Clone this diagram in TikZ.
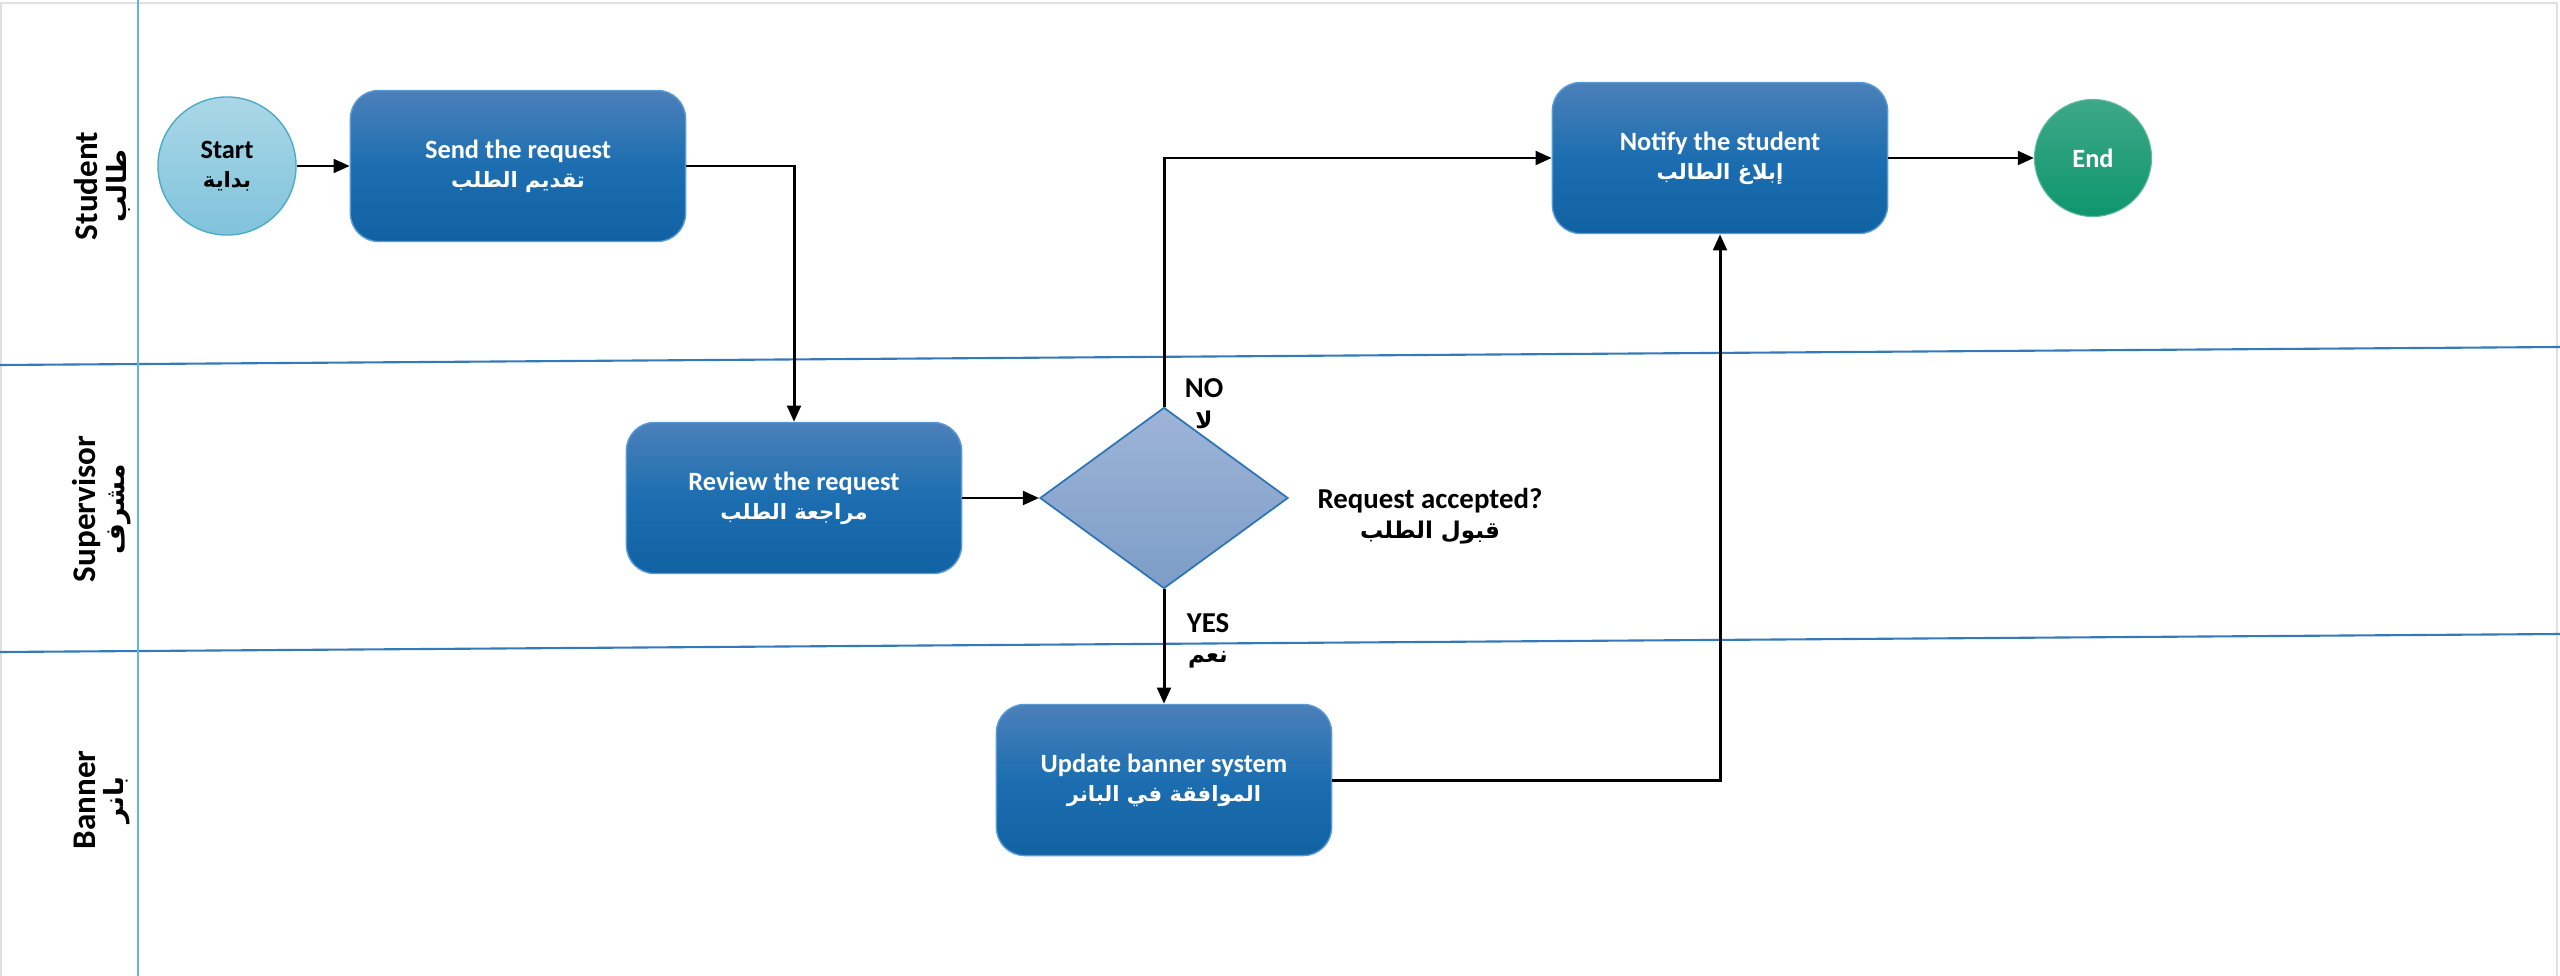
\documentclass[tikz,border=0pt]{standalone}
\usepackage{fontspec}
\setmainfont{Carlito}
\newfontfamily\arabicfont[Script=Arabic,Scale=0.8]{DejaVu Sans}
\TeXXeTstate=1
\usetikzlibrary{shapes.geometric,arrows.meta}
\definecolor{boxtop}{RGB}{76,128,186}
\definecolor{boxmid}{RGB}{28,110,176}
\definecolor{boxbot}{RGB}{16,98,163}
\definecolor{boxedge}{RGB}{91,155,213}
\definecolor{dectop}{RGB}{158,180,215}
\definecolor{decbot}{RGB}{124,157,200}
\definecolor{decedge}{RGB}{46,117,182}
\definecolor{sttop}{RGB}{170,215,231}
\definecolor{stbot}{RGB}{128,195,220}
\definecolor{stedge}{RGB}{75,172,198}
\definecolor{endtop}{RGB}{62,168,134}
\definecolor{endbot}{RGB}{14,150,110}
\definecolor{lanecol}{RGB}{52,122,186}
\definecolor{vcol}{RGB}{95,184,216}
\begin{document}
\begin{tikzpicture}[x=0.01cm,y=-0.01cm,
  proc/.style={rounded corners=8pt, draw=boxedge, line width=0.4pt,
    top color=boxtop, bottom color=boxbot, middle color=boxmid,
    minimum width=3.35cm, minimum height=1.51cm, align=center, text=white,
    font=\fontsize{7.5}{8.2}\selectfont\bfseries},
  startc/.style={circle, draw=stedge, line width=0.4pt, top color=sttop, bottom color=stbot,
    minimum size=1.38cm, inner sep=0pt, align=center, text=black,
    font=\fontsize{7.5}{8.2}\selectfont\bfseries},
  endc/.style={circle, draw=endtop!80!white, line width=0.3pt, top color=endtop, bottom color=endbot,
    minimum size=1.17cm, inner sep=0pt, align=center, text=white,
    font=\fontsize{7.5}{8.2}\selectfont\bfseries},
  decn/.style={diamond, draw=decedge, line width=0.5pt, top color=dectop, bottom color=decbot,
    minimum width=2.48cm, minimum height=1.81cm, inner sep=0pt},
  lbl/.style={align=center, text=black, font=\fontsize{8.2}{8.7}\selectfont\bfseries},
  lanelbl/.style={align=center, text=black, rotate=90, font=\fontsize{9.4}{8.2}\selectfont\bfseries},
  arr/.style={-{Triangle[length=4.6pt,width=3.9pt]}, line width=0.85pt, black},
  laneln/.style={draw=lanecol, line width=0.6pt},
  vln/.style={draw=vcol, line width=0.6pt}
]
\useasboundingbox (0,0) rectangle (2560,976);
\fill[white] (0,0) rectangle (2560,976);
\draw[black!12, line width=0.8pt] (1,976) -- (1,3) -- (2557,3) -- (2557,976);
% swimlanes
\draw[laneln] (0,365) -- (2560,347);
\draw[laneln] (0,652) -- (2560,634);
\draw[vln] (138,0) -- (138,976);
\node[lanelbl] (lstudent) at (102,186) {Student\\{\arabicfont\beginR طالب\endR}};
\node[lanelbl] (lsuper) at (102,509) {Supervisor\\{\arabicfont\beginR مشرف\endR}};
\node[lanelbl] (lbanner) at (102,800) {Banner\\{\arabicfont\beginR بانر\endR}};
% nodes
\node[startc] (start) at (227,166) {Start\\{\arabicfont\beginR بداية\endR}};
\node[proc] (send) at (518,166) {Send the request\\{\arabicfont\beginR تقديم الطلب\endR}};
\node[proc] (review) at (794,498) {Review the request\\{\arabicfont\beginR مراجعة الطلب\endR}};
\node[decn] (dec) at (1164,498) {};
\node[proc] (update) at (1164,780) {Update banner system\\{\arabicfont\beginR الموافقة في البانر\endR}};
\node[proc] (notify) at (1720,158) {Notify the student\\{\arabicfont\beginR إبلاغ الطالب\endR}};
\node[endc] (end) at (2093,158) {End};
% labels
\node[lbl] (no) at (1204,404) {NO\\{\arabicfont\beginR لا\endR}};
\node[lbl] (yes) at (1208,641) {YES\\{\arabicfont\beginR نعم\endR}};
\node[lbl] (q) at (1430,516) {Request accepted?\\{\arabicfont\beginR قبول الطلب\endR}};
% connectors
\draw[arr] (start) -- (send);
\draw[arr] (send.east) -| (review.north);
\draw[arr] (review) -- (dec);
\draw[arr] (dec.north) |- (notify.west);
\draw[arr] (dec.south) -- (update.north);
\draw[arr] (update.east) -| (notify.south);
\draw[arr] (notify) -- (end);
\end{tikzpicture}
\end{document}
